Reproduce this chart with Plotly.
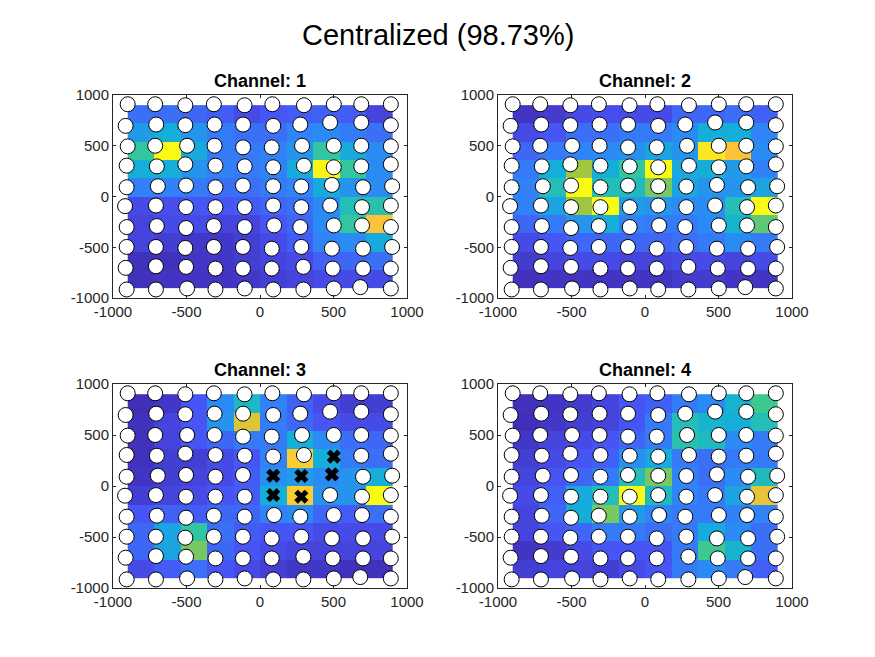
import plotly.graph_objects as go

title_text = "Centralized (98.73%)"
channel_names = ["Channel: 1", "Channel: 2", "Channel: 3", "Channel: 4"]

# cell centres of the 10x10 map (rows top -> bottom)
cell_x = [-810, -630, -450, -270, -90, 90, 270, 450, 630, 810]
cell_y = [810, 630, 450, 270, 90, -90, -270, -450, -630, -810]

tick_vals = [-1000, -500, 0, 500, 1000]
tick_text = ["-1000", "-500", "0", "500", "1000"]

ch1 = [
    [0.22, 0.22, 0.20, 0.17, 0.12, 0.15, 0.17, 0.18, 0.17, 0.10],
    [0.35, 0.42, 0.33, 0.25, 0.22, 0.22, 0.28, 0.30, 0.25, 0.22],
    [0.55, 1.00, 0.40, 0.25, 0.25, 0.27, 0.33, 0.55, 0.40, 0.30],
    [0.42, 0.42, 0.33, 0.27, 0.25, 0.27, 0.40, 0.98, 0.55, 0.30],
    [0.27, 0.27, 0.25, 0.22, 0.22, 0.25, 0.28, 0.40, 0.33, 0.30],
    [0.12, 0.13, 0.15, 0.15, 0.17, 0.20, 0.22, 0.30, 0.50, 0.52],
    [0.10, 0.12, 0.12, 0.10, 0.10, 0.15, 0.20, 0.30, 0.55, 0.85],
    [0.10, 0.08, 0.06, 0.06, 0.08, 0.12, 0.17, 0.28, 0.30, 0.40],
    [0.04, 0.04, 0.05, 0.06, 0.08, 0.10, 0.12, 0.18, 0.20, 0.22],
    [0.04, 0.05, 0.05, 0.05, 0.06, 0.08, 0.10, 0.12, 0.12, 0.12],
]
ch2 = [
    [0.05, 0.07, 0.12, 0.13, 0.12, 0.12, 0.20, 0.20, 0.22, 0.18],
    [0.12, 0.15, 0.22, 0.22, 0.25, 0.25, 0.30, 0.42, 0.42, 0.28],
    [0.20, 0.25, 0.28, 0.30, 0.32, 0.38, 0.33, 0.95, 0.85, 0.30],
    [0.25, 0.42, 0.70, 0.42, 0.55, 1.00, 0.40, 0.42, 0.35, 0.27],
    [0.27, 0.50, 1.00, 0.50, 0.48, 0.65, 0.38, 0.33, 0.33, 0.38],
    [0.27, 0.38, 0.70, 1.00, 0.35, 0.33, 0.30, 0.30, 0.50, 1.00],
    [0.20, 0.25, 0.33, 0.42, 0.27, 0.25, 0.25, 0.30, 0.45, 0.62],
    [0.12, 0.15, 0.20, 0.20, 0.20, 0.20, 0.22, 0.25, 0.30, 0.25],
    [0.07, 0.10, 0.12, 0.12, 0.10, 0.10, 0.12, 0.12, 0.10, 0.12],
    [0.04, 0.05, 0.05, 0.05, 0.05, 0.05, 0.07, 0.07, 0.05, 0.05],
]
ch3 = [
    [0.03, 0.06, 0.15, 0.30, 0.47, 0.27, 0.18, 0.12, 0.08, 0.08],
    [0.04, 0.10, 0.15, 0.33, 0.80, 0.25, 0.20, 0.15, 0.12, 0.12],
    [0.04, 0.10, 0.15, 0.20, 0.25, 0.25, 0.42, 0.30, 0.22, 0.20],
    [0.04, 0.08, 0.08, 0.12, 0.15, 0.27, 0.88, 0.42, 0.25, 0.22],
    [0.05, 0.08, 0.10, 0.12, 0.17, 0.32, 0.35, 0.30, 0.33, 0.42],
    [0.08, 0.10, 0.12, 0.15, 0.17, 0.42, 0.88, 0.33, 0.33, 1.00],
    [0.15, 0.18, 0.17, 0.20, 0.20, 0.27, 0.30, 0.20, 0.17, 0.22],
    [0.20, 0.38, 0.55, 0.22, 0.17, 0.15, 0.15, 0.12, 0.12, 0.12],
    [0.20, 0.38, 0.65, 0.20, 0.15, 0.12, 0.10, 0.10, 0.10, 0.10],
    [0.12, 0.17, 0.22, 0.15, 0.12, 0.08, 0.06, 0.06, 0.04, 0.04],
]
ch4 = [
    [0.04, 0.05, 0.07, 0.10, 0.15, 0.18, 0.25, 0.30, 0.45, 0.58],
    [0.03, 0.06, 0.08, 0.10, 0.15, 0.25, 0.50, 0.45, 0.42, 0.50],
    [0.06, 0.10, 0.12, 0.15, 0.20, 0.25, 0.52, 0.48, 0.30, 0.25],
    [0.08, 0.12, 0.15, 0.18, 0.32, 0.40, 0.25, 0.22, 0.25, 0.25],
    [0.10, 0.15, 0.20, 0.25, 0.50, 0.65, 0.27, 0.22, 0.30, 0.48],
    [0.12, 0.18, 0.40, 0.50, 1.00, 0.48, 0.28, 0.25, 0.38, 0.82],
    [0.10, 0.20, 0.42, 0.65, 0.35, 0.28, 0.25, 0.25, 0.27, 0.28],
    [0.10, 0.15, 0.20, 0.25, 0.25, 0.22, 0.25, 0.40, 0.30, 0.22],
    [0.05, 0.07, 0.12, 0.15, 0.15, 0.15, 0.25, 0.58, 0.45, 0.22],
    [0.08, 0.10, 0.10, 0.08, 0.12, 0.15, 0.25, 0.30, 0.25, 0.18],
]
channels = [ch1, ch2, ch3, ch4]

# sensor positions (same in every panel)
sensor_x = [
    [-900, -713, -508, -314, -105, 84, 299, 502, 689, 890],
    [-914, -706, -508, -309, -115, 90, 274, 477, 689, 890],
    [-900, -713, -496, -309, -115, 80, 286, 502, 689, 890],
    [-907, -702, -508, -303, -104, 90, 299, 502, 689, 890],
    [-907, -695, -503, -303, -116, 90, 281, 489, 701, 899],
    [-918, -708, -503, -303, -104, 90, 281, 477, 694, 890],
    [-907, -702, -503, -314, -104, 96, 274, 502, 694, 890],
    [-907, -708, -508, -314, -116, 80, 281, 489, 701, 899],
    [-914, -708, -503, -303, -116, 80, 295, 495, 701, 890],
    [-907, -708, -496, -303, -104, 90, 295, 502, 682, 890],
]
sensor_y = [
    [909, 909, 899, 909, 899, 909, 899, 909, 909, 909],
    [696, 709, 703, 709, 709, 696, 709, 729, 729, 703],
    [494, 500, 500, 500, 484, 484, 500, 500, 500, 494],
    [304, 297, 317, 304, 297, 288, 304, 288, 297, 317],
    [91, 101, 108, 91, 108, 101, 98, 114, 91, 101],
    [-95, -89, -105, -105, -105, -89, -105, -89, -105, -89],
    [-301, -291, -311, -291, -301, -285, -301, -285, -285, -301],
    [-497, -497, -507, -497, -497, -514, -497, -514, -514, -497],
    [-703, -687, -693, -710, -710, -710, -693, -710, -710, -710],
    [-916, -916, -906, -916, -906, -916, -916, -906, -893, -906],
]
# sensors drawn as crosses in channel 3 (row, col)
ch3_marked = [(3, 7), (4, 5), (4, 6), (4, 7), (5, 5), (5, 6)]

parula = [
    [0.0, "rgb(62,38,168)"],
    [1 / 7, "rgb(72,82,244)"],
    [2 / 7, "rgb(46,135,247)"],
    [3 / 7, "rgb(18,177,214)"],
    [4 / 7, "rgb(55,200,151)"],
    [5 / 7, "rgb(171,199,57)"],
    [6 / 7, "rgb(254,195,56)"],
    [1.0, "rgb(249,251,21)"],
]

W, H = 875, 657
px_x = [(113, 407), (498, 792), (113, 407), (498, 792)]
px_y = [(95, 298), (95, 298), (384, 588), (384, 588)]

fig = go.Figure()
axis_color = "#262626"
font_family = "Liberation Sans, Arial, sans-serif"

for k in range(4):
    xa = "x" if k == 0 else f"x{k+1}"
    ya = "y" if k == 0 else f"y{k+1}"
    fig.add_trace(go.Heatmap(
        x=cell_x, y=cell_y, z=channels[k], colorscale=parula,
        zmin=0, zmax=1, showscale=False, xaxis=xa, yaxis=ya,
        hoverinfo="skip"))
    cx, cy, mx, my = [], [], [], []
    for r in range(10):
        for c in range(10):
            if k == 2 and (r, c) in ch3_marked:
                mx.append(sensor_x[r][c]); my.append(sensor_y[r][c])
            else:
                cx.append(sensor_x[r][c]); cy.append(sensor_y[r][c])
    fig.add_trace(go.Scatter(
        x=cx, y=cy, mode="markers", xaxis=xa, yaxis=ya,
        marker=dict(symbol="circle", size=15, color="white",
                    line=dict(color="black", width=1)),
        hoverinfo="skip", showlegend=False))
    if mx:
        fig.add_trace(go.Scatter(
            x=mx, y=my, mode="markers", xaxis=xa, yaxis=ya,
            marker=dict(symbol="x", size=12, color="black",
                        line=dict(color="black", width=0.5)),
            hoverinfo="skip", showlegend=False))

    ax_common = dict(
        range=[-1000, 1000], tickvals=tick_vals, ticktext=tick_text,
        ticks="inside", ticklen=3, tickcolor=axis_color, showline=True,
        linecolor=axis_color, linewidth=1, mirror="ticks", showgrid=False,
        zeroline=False, automargin=False,
        tickfont=dict(size=15, color=axis_color, family=font_family),
    )
    x0, x1 = px_x[k]
    y0, y1 = px_y[k]
    fig.layout[xa.replace("x", "xaxis")] = dict(
        ax_common, domain=[x0 / W, x1 / W], anchor=ya)
    fig.layout[ya.replace("y", "yaxis")] = dict(
        ax_common, domain=[1 - y1 / H, 1 - y0 / H], anchor=xa)
    fig.add_annotation(
        text=f"<b>{channel_names[k]}</b>", x=(x0 + x1) / 2 / W, y=1 - (y0 - 14) / H,
        xref="paper", yref="paper", showarrow=False, xanchor="center",
        yanchor="middle", font=dict(size=18, color="black", family=font_family))

fig.add_annotation(
    text=title_text, x=0.5, y=1 - 35 / H, xref="paper", yref="paper",
    showarrow=False, xanchor="center", yanchor="middle",
    font=dict(size=29, color="black", family=font_family))

fig.update_layout(
    width=W, height=H, margin=dict(l=0, r=0, t=0, b=0, autoexpand=False),
    paper_bgcolor="white", plot_bgcolor="white", showlegend=False)

fig.write_html("out.html")
